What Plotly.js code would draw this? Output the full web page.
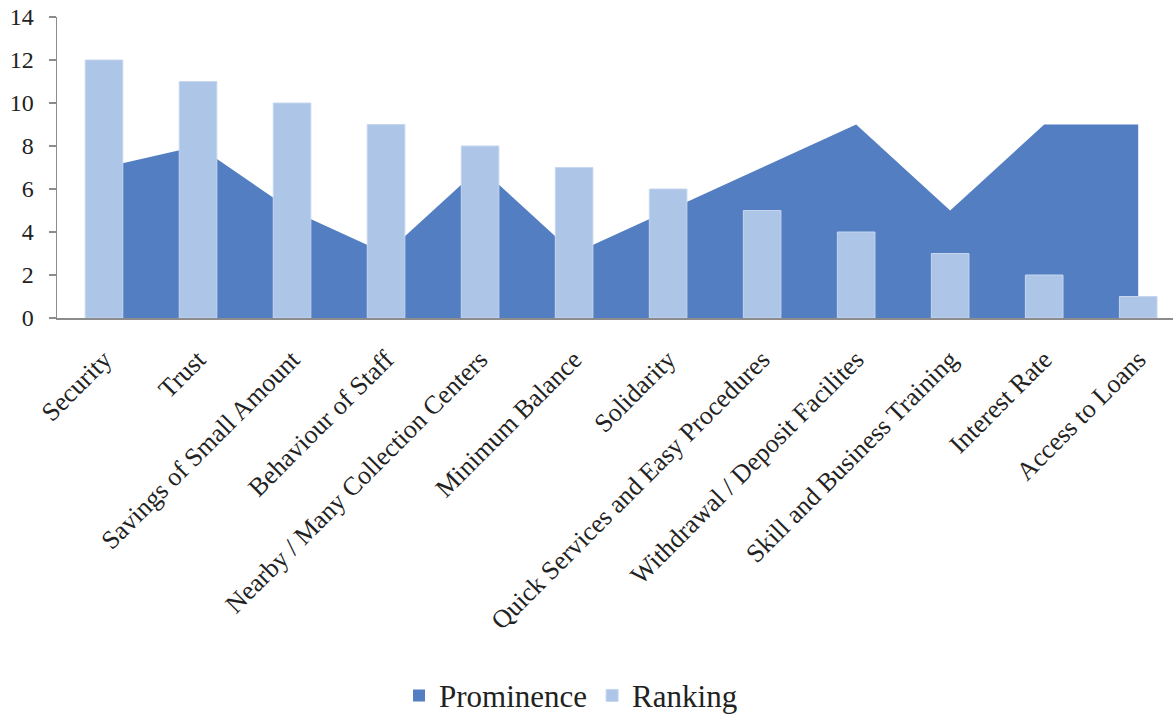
<!DOCTYPE html>
<html>
<head>
<meta charset="utf-8">
<script src="https://cdn.plot.ly/plotly-3.0.1.min.js"></script>
<style>html,body{margin:0;padding:0;background:#fff;}#chart{width:1173px;height:714px;}</style>
</head>
<body>
<div id="chart"></div>
<script>
const categories = [
  "Security", "Trust", "Savings of Small Amount", "Behaviour of Staff",
  "Nearby / Many Collection Centers", "Minimum Balance", "Solidarity",
  "Quick Services and Easy Procedures", "Withdrawal / Deposit Facilites",
  "Skill and Business Training", "Interest Rate", "Access to Loans"
];
const prominence = [7, 8, 5, 3, 7, 3, 5, 7, 9, 5, 9, 9];
const ranking = [12, 11, 10, 9, 8, 7, 6, 5, 4, 3, 2, 1];
const yTicks = [0, 2, 4, 6, 8, 10, 12, 14];

const darkBlue = "#537EC1";
const lightBlue = "#ADC5E7";
const font = "'Liberation Serif', 'Times New Roman', serif";

const data = [
  {
    type: "scatter", mode: "none", x: categories, y: prominence,
    fill: "tozeroy", fillcolor: darkBlue, name: "Prominence",
    showlegend: false, xaxis: "x", yaxis: "y", hoverinfo: "x+y"
  },
  {
    // legend key only (zero-height), so the key is a square like the reference
    type: "bar", x: [categories[0]], y: [0], name: "Prominence", width: 0.4,
    marker: {color: darkBlue, line: {width: 0}}, xaxis: "x2", yaxis: "y2",
    hoverinfo: "skip"
  },
  {
    type: "bar", x: categories, y: ranking, name: "Ranking", width: 0.4,
    marker: {color: lightBlue, line: {color: "#C6D6EE", width: 1}},
    xaxis: "x2", yaxis: "y2"
  }
];

const layout = {
  width: 1173, height: 714,
  margin: {l: 57, r: 0, t: 17, b: 396, autoexpand: false},
  paper_bgcolor: "#ffffff", plot_bgcolor: "rgba(0,0,0,0)",
  font: {family: font, color: "#222222", size: 26},
  barmode: "overlay",
  showlegend: true,
  legend: {
    orientation: "h", x: 0.4606, xanchor: "center", y: -1.255, yanchor: "middle",
    font: {family: font, size: 31, color: "#222222"}, traceorder: "normal",
    itemclick: false, itemwidth: 30
  },
  xaxis: {
    type: "category", categoryarray: categories, range: [-0.5, 11.37],
    showline: true, linecolor: "#8C8C8C", linewidth: 2, showgrid: false,
    ticks: "", tickangle: -45, tickfont: {family: font, size: 26, color: "#222222"},
    zeroline: false, ticklabelstandoff: 14
  },
  yaxis: {
    range: [0, 14], tickvals: yTicks, ticktext: yTicks.map(String),
    showline: true, linecolor: "#8C8C8C", linewidth: 1.5, showgrid: false,
    ticks: "outside", ticklen: 7, tickcolor: "#8C8C8C", tickwidth: 1.5,
    tickfont: {family: font, size: 24, color: "#222222"}, zeroline: false,
    ticklabelstandoff: 10
  },
  xaxis2: {
    type: "category", categoryarray: categories, overlaying: "x", matches: "x",
    range: [-0.5, 11.37], visible: false, anchor: "y2"
  },
  yaxis2: {
    range: [0, 14], overlaying: "y", matches: "y", visible: false, anchor: "x2"
  }
};

Plotly.newPlot("chart", data, layout, {staticPlot: true, displayModeBar: false});
</script>
</body>
</html>
